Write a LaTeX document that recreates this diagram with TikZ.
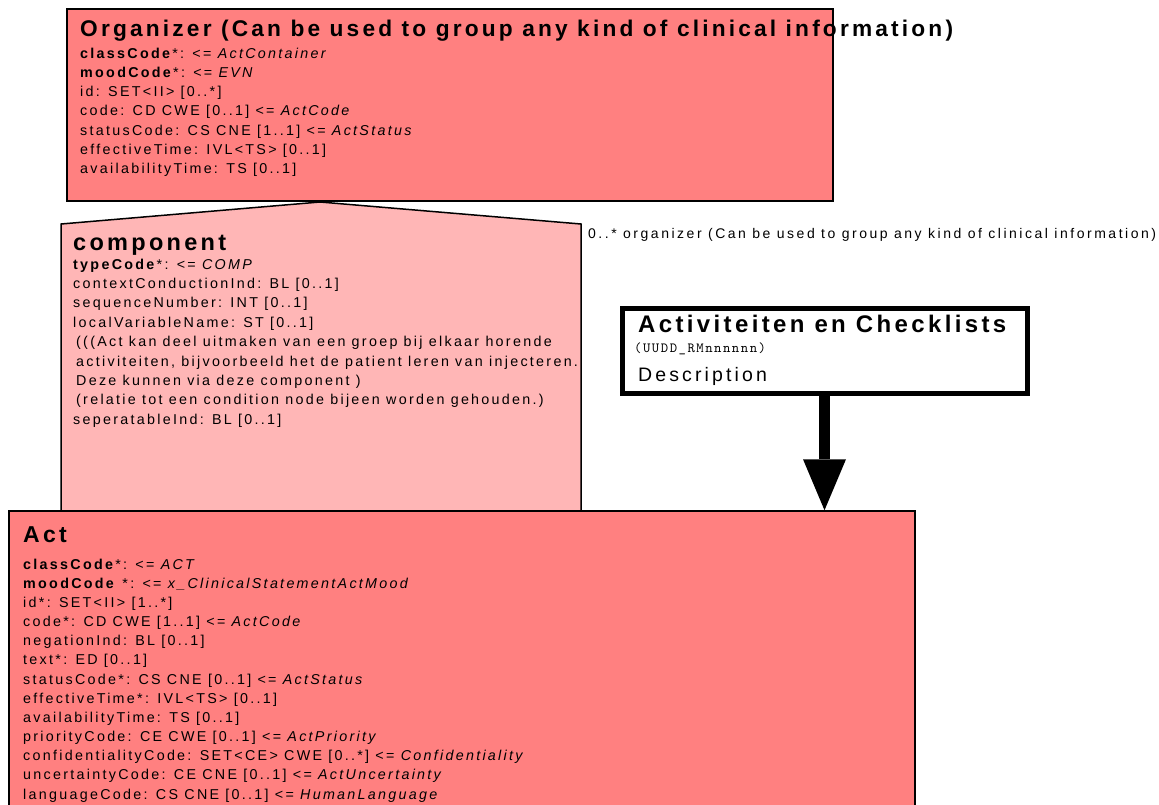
\documentclass[tikz,border=0pt]{standalone}
\usepackage{fontspec}
\setmainfont{Liberation Sans}
\newfontfamily\umlfont{Liberation Sans}[LetterSpace=16]
\newfontfamily\umllabelfont{Liberation Sans}[LetterSpace=18]
\newfontfamily\umltitlefont{Liberation Sans}[LetterSpace=14]
\newfontfamily\umlmono{lmmono10-regular}[Extension=.otf, LetterSpace=11]
\usetikzlibrary{arrows.meta}
\definecolor{actred}{HTML}{FF8080}
\definecolor{comppink}{HTML}{FFB6B6}
\tikzset{
 attr/.style={anchor=base west, inner sep=0pt, font=\umlfont\fontsize{14.3}{16}\selectfont},
 ttl/.style={anchor=base west, inner sep=0pt, font=\umltitlefont\bfseries\fontsize{23}{26}\selectfont},
 classbox/.style={draw=black, line width=1.5pt, fill=actred, inner sep=0pt},
 compbox/.style={draw=black, line width=1.5pt, fill=comppink},
 notebox/.style={draw=black, line width=5pt, fill=white, inner sep=0pt},
 bigarrow/.style={line width=11pt, -{Triangle[width=43pt,length=51pt,line width=0pt]}},
}
\begin{document}
\begin{tikzpicture}[x=1pt,y=-1pt]
\useasboundingbox (0,0) rectangle (1159,804);
% Organizer
\node[classbox, minimum width=766pt, minimum height=192pt] (org) at (450,105) {};
% component (association class shape)
\draw[compbox] (61,224) -- (320,202) -- (581,224) -- (581,520) -- (61,520) -- cycle;
% Act
\node[classbox, minimum width=906pt, minimum height=310pt] (act) at (462,666) {};
% Activiteiten en Checklists
\node[notebox, minimum width=405pt, minimum height=85pt] (actv) at (824.5,350.5) {};
\draw[bigarrow] (actv.south) -- (act.north -| actv.south);

% titles
\node[ttl, font=\umltitlefont\bfseries\fontsize{22.7}{26}\selectfont] (org-title) at (80,36) {Organizer (Can be used to group any kind of clinical information)};
\node[ttl, font=\umltitlefont\bfseries\fontsize{23.5}{26}\selectfont] (comp-title) at (73,250) {component};
\node[ttl] (act-title) at (23,542) {Act};
\node[ttl, font=\umltitlefont\bfseries\fontsize{24}{26}\selectfont] (actv-title) at (638,332) {Activiteiten en Checklists};
\node[anchor=base west, inner sep=0pt, font=\umlmono\fontsize{14}{15}\selectfont] (actv-id) at (634,352) {(UUDD\_RMnnnnnn)};
\node[anchor=base west, inner sep=0pt, font=\umlfont\fontsize{19.5}{21}\selectfont] (actv-desc) at (638,381) {Description};
\node[attr, font=\umllabelfont\fontsize{14}{16}\selectfont] (assoc-label) at (588,238) {0..* organizer (Can be used to group any kind of clinical information)};

% Organizer attributes
\foreach \t [count=\i from 0] in {
 {\textbf{classCode}*: <= \textit{ActContainer}},
 {\textbf{moodCode}*: <= \textit{EVN}},
 {id: SET<II> [0..*]},
 {code: CD CWE [0..1] <= \textit{ActCode}},
 {statusCode: CS CNE [1..1] <= \textit{ActStatus}},
 {effectiveTime: IVL<TS> [0..1]},
 {availabilityTime: TS [0..1]}}
 \node[attr] (org-\i) at (80,58+19.3*\i) {\t};

% component attributes
\foreach \t [count=\i from 0] in {
 {\textbf{typeCode}*: <= \textit{COMP}},
 {contextConductionInd: BL [0..1]},
 {sequenceNumber: INT [0..1]},
 {localVariableName: ST [0..1]},
 {\hspace{3pt}(((Act kan deel uitmaken van een groep bij elkaar horende},
 {\hspace{3pt}activiteiten, bijvoorbeeld het de patient leren van injecteren.},
 {\hspace{3pt}Deze kunnen via deze component )},
 {\hspace{3pt}(relatie tot een condition node bijeen worden gehouden.)},
 {seperatableInd: BL [0..1]}}
 \node[attr] (comp-\i) at (73,269+19.4*\i) {\t};

% Act attributes
\foreach \t [count=\i from 0] in {
 {\textbf{classCode}*: <= \textit{ACT}},
 {\textbf{moodCode} *: <= \textit{x\_ClinicalStatementActMood}},
 {id*: SET<II> [1..*]},
 {code*: CD CWE [1..1] <= \textit{ActCode}},
 {negationInd: BL [0..1]},
 {text*: ED [0..1]},
 {statusCode*: CS CNE [0..1] <= \textit{ActStatus}},
 {effectiveTime*: IVL<TS> [0..1]},
 {availabilityTime: TS [0..1]},
 {priorityCode: CE CWE [0..1] <= \textit{ActPriority}},
 {confidentialityCode: SET<CE> CWE [0..*] <= \textit{Confidentiality}},
 {uncertaintyCode: CE CNE [0..1] <= \textit{ActUncertainty}},
 {languageCode: CS CNE [0..1] <= \textit{HumanLanguage}}}
 \node[attr] (act-\i) at (23,569+19.17*\i) {\t};
\end{tikzpicture}
\end{document}
